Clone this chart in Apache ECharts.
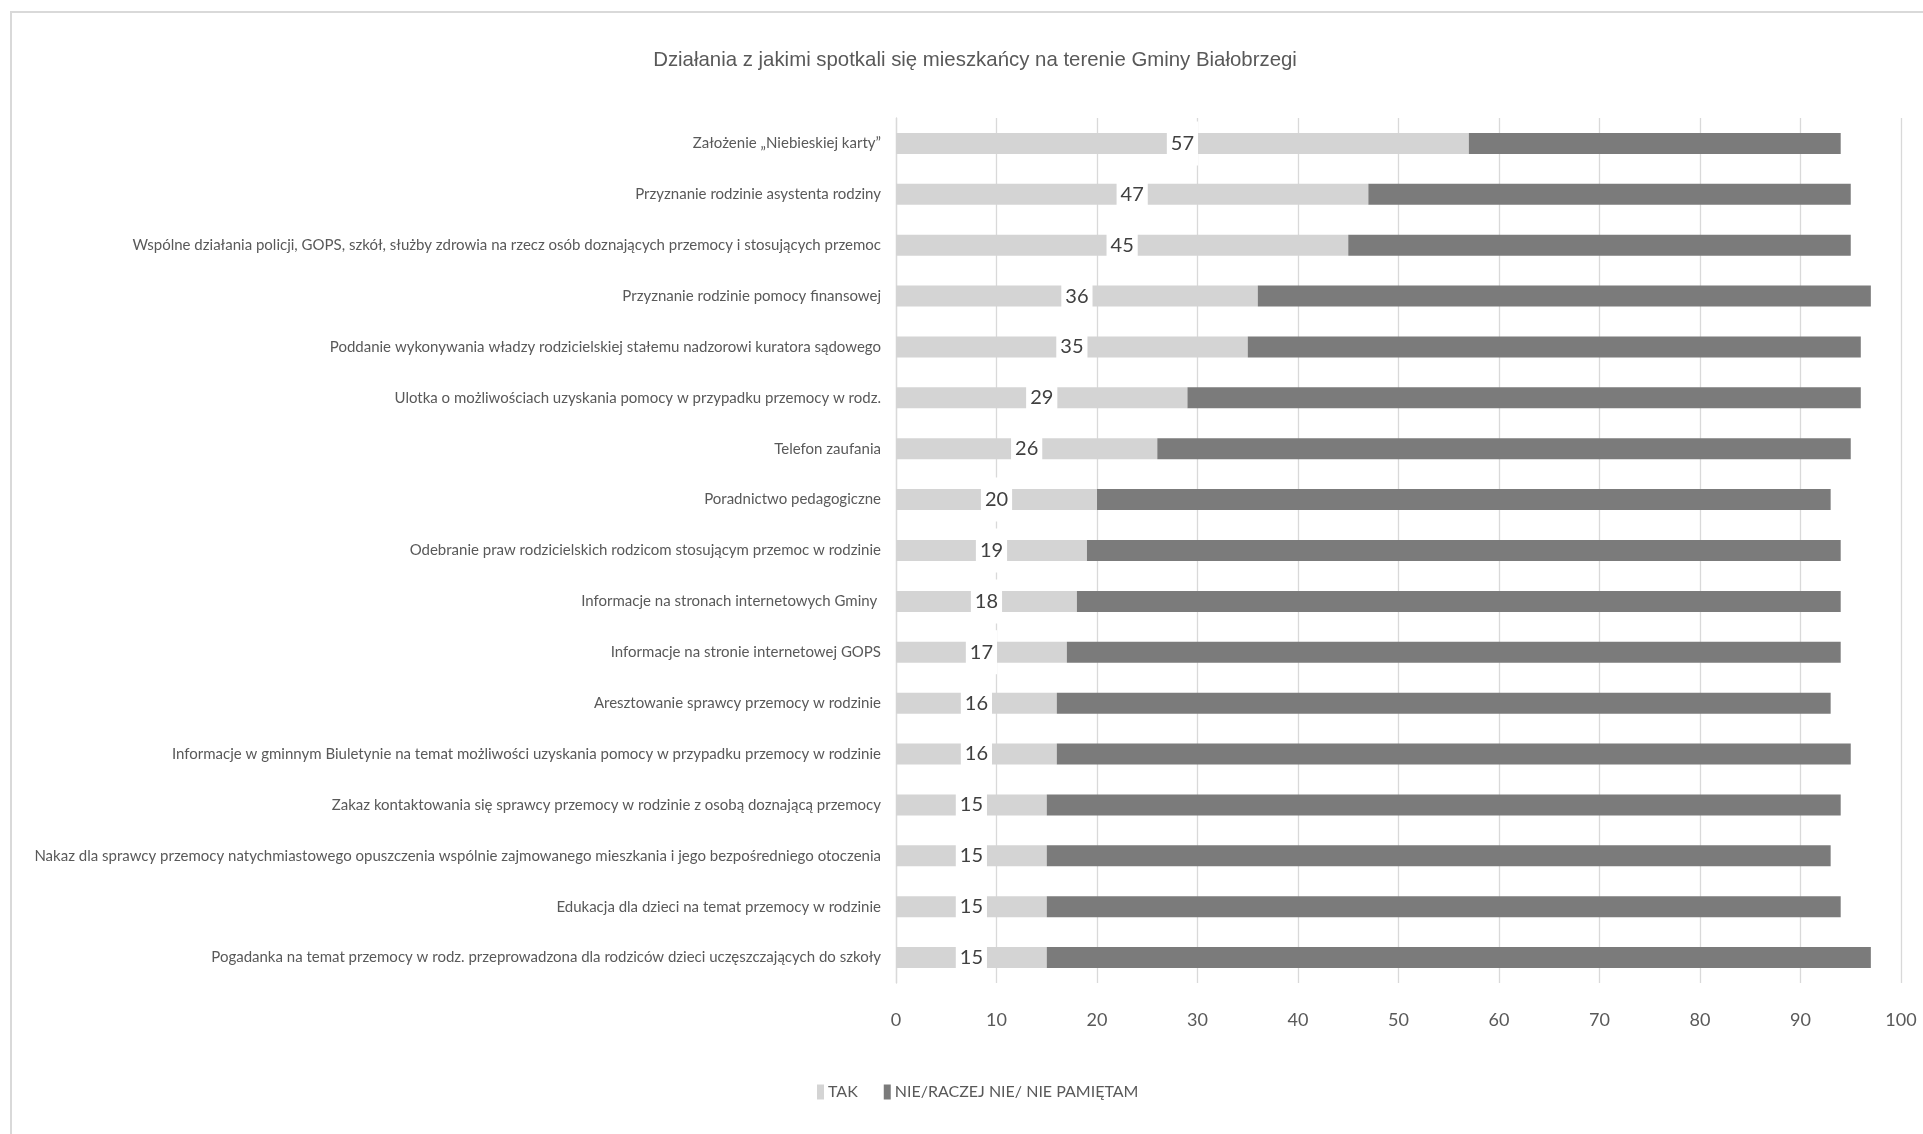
<!DOCTYPE html>
<html>
<head>
<meta charset="utf-8">
<script src="https://cdn.jsdelivr.net/npm/echarts@6/dist/echarts.min.js"></script>
<style>
html,body{margin:0;padding:0;background:#fff;}
#chart{width:1923px;height:1134px;}
</style>
</head>
<body>
<div id="chart"></div>
<script>
const titleText = 'Działania z jakimi spotkali się mieszkańcy na terenie Gminy Białobrzegi';
const categories = [
  'Założenie „Niebieskiej karty”',
  'Przyznanie rodzinie asystenta rodziny',
  'Wspólne działania policji, GOPS, szkół, służby zdrowia na rzecz osób doznających przemocy i stosujących przemoc',
  'Przyznanie rodzinie pomocy finansowej',
  'Poddanie wykonywania władzy rodzicielskiej stałemu nadzorowi kuratora sądowego',
  'Ulotka o możliwościach uzyskania pomocy w przypadku przemocy w rodz.',
  'Telefon zaufania',
  'Poradnictwo pedagogiczne',
  'Odebranie praw rodzicielskich rodzicom stosującym przemoc w rodzinie',
  'Informacje na stronach internetowych Gminy ',
  'Informacje na stronie internetowej GOPS',
  'Aresztowanie sprawcy przemocy w rodzinie',
  'Informacje w gminnym Biuletynie na temat możliwości uzyskania pomocy w przypadku przemocy w rodzinie',
  'Zakaz kontaktowania się sprawcy przemocy w rodzinie z osobą doznającą przemocy',
  'Nakaz dla sprawcy przemocy natychmiastowego opuszczenia wspólnie zajmowanego mieszkania i jego bezpośredniego otoczenia',
  'Edukacja dla dzieci na temat przemocy w rodzinie',
  'Pogadanka na temat przemocy w rodz. przeprowadzona dla rodziców dzieci uczęszczających do szkoły'
];
const seriesNames = ['TAK', 'NIE/RACZEJ NIE/ NIE PAMIĘTAM'];
const takValues = [57, 47, 45, 36, 35, 29, 26, 20, 19, 18, 17, 16, 16, 15, 15, 15, 15];
const nieValues = [37, 48, 50, 61, 61, 67, 69, 73, 75, 76, 77, 77, 79, 79, 78, 79, 82];
const xTicks = [0, 10, 20, 30, 40, 50, 60, 70, 80, 90, 100];

const FONT = "Lato, 'Liberation Sans', sans-serif";
const TITLE_FONT = "'Liberation Sans', Arial, sans-serif";
const chart = echarts.init(document.getElementById('chart'), null, {renderer: 'canvas'});
chart.setOption({
  backgroundColor: '#fff',
  animation: false,
  graphic: [{
    type: 'rect',
    shape: {x: 11, y: 12, width: 2000, height: 1200},
    style: {fill: 'none', stroke: '#d9d9d9', lineWidth: 2},
    silent: true,
    z: -10
  }],
  title: {
    text: titleText,
    left: 970,
    top: 45,
    textAlign: 'center',
    textStyle: {fontFamily: TITLE_FONT, fontSize: 20.4, fontWeight: 'normal', color: '#595959'}
  },
  legend: {
    data: seriesNames,
    left: 812,
    top: 1079,
    itemWidth: 7,
    itemHeight: 15,
    itemGap: 26,
    icon: 'rect',
    textStyle: {fontFamily: FONT, fontSize: 16, color: '#595959', padding: [0, 0, 0, -1]}
  },
  grid: {left: 896, right: 22, top: 118, bottom: 151, containLabel: false, outerBoundsMode: 'none'},
  xAxis: {
    type: 'value',
    min: xTicks[0],
    max: xTicks[xTicks.length - 1],
    interval: xTicks[1] - xTicks[0],
    axisLine: {show: false},
    axisTick: {show: false},
    splitLine: {show: true, lineStyle: {color: '#d9d9d9', width: 1.3}},
    axisLabel: {fontFamily: FONT, fontSize: 18, color: '#595959', margin: 28}
  },
  yAxis: {
    type: 'category',
    data: categories,
    inverse: true,
    axisLine: {show: true, lineStyle: {color: '#d9d9d9', width: 1.3}},
    axisTick: {show: false},
    axisLabel: {fontFamily: FONT, fontSize: 15, color: '#595959', margin: 15}
  },
  series: [
    {
      name: seriesNames[0],
      type: 'bar',
      stack: 'total',
      data: takValues,
      barWidth: 21,
      itemStyle: {color: '#d4d4d4'},
      label: {
        show: true,
        position: 'inside',
        fontFamily: FONT,
        fontSize: 20,
        color: '#404040',
        backgroundColor: '#ffffff',
        lineHeight: 24,
        padding: [10, 4]
      }
    },
    {
      name: seriesNames[1],
      type: 'bar',
      stack: 'total',
      data: nieValues,
      barWidth: 21,
      itemStyle: {color: '#7b7b7b'}
    }
  ]
});
</script>
</body>
</html>
